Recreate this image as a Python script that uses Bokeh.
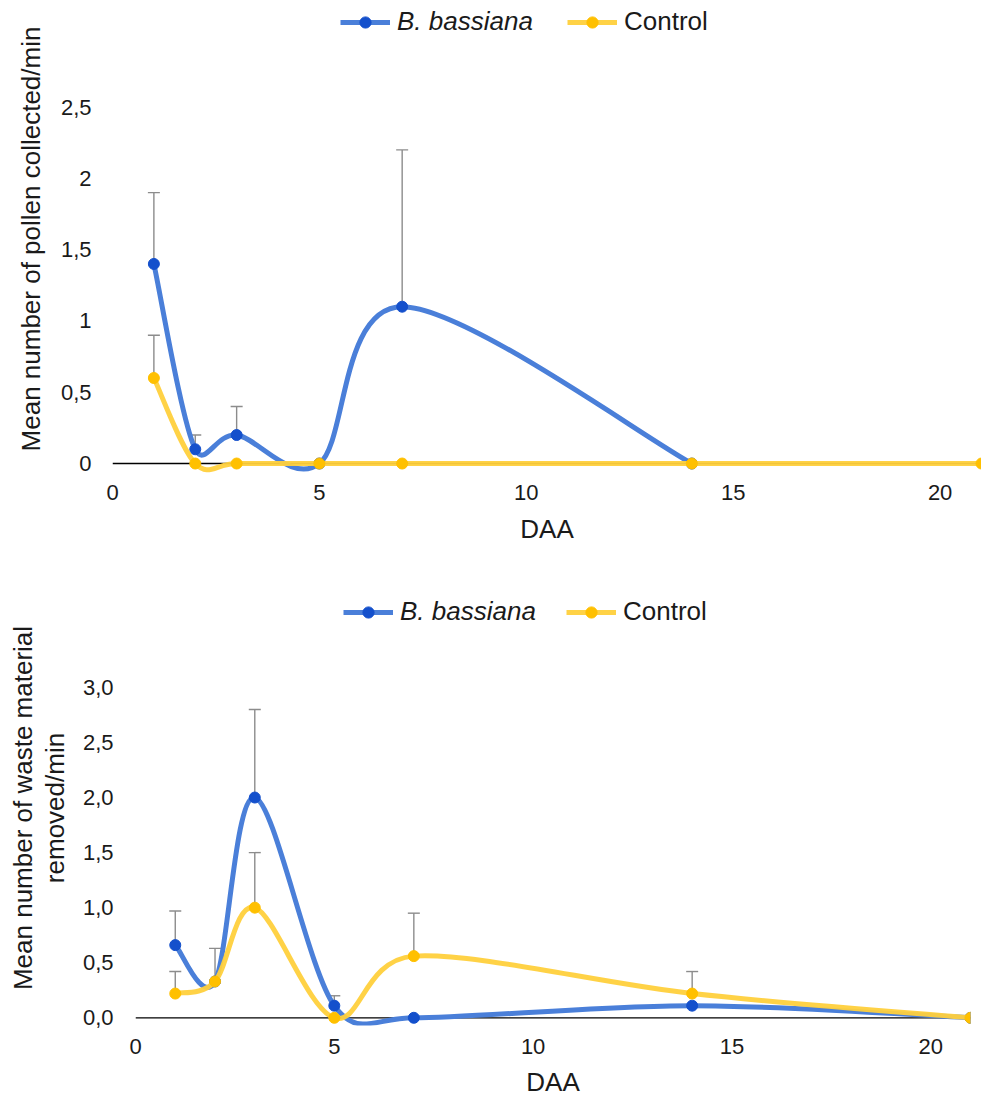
import math
from bokeh.plotting import figure
from bokeh.models import (Range1d, FixedTicker, Span, Whisker, TeeHead, Legend,
                          LegendItem, ColumnDataSource)
from bokeh.embed import file_html
from bokeh.resources import INLINE

# ---------------- data ----------------
days = [1, 2, 3, 5, 7, 14, 21]

pollen_bb_days = [1, 2, 3, 5, 7, 14]
pollen_bb = [1.4, 0.1, 0.2, 0.0, 1.1, 0.0]
pollen_bb_err = [0.5, 0.1, 0.2, 0.0, 1.1, 0.0]
pollen_ctrl = [0.6, 0.0, 0.0, 0.0, 0.0, 0.0, 0.0]
pollen_ctrl_err = [0.3, 0.0, 0.0, 0.0, 0.0, 0.0, 0.0]

waste_bb = [0.66, 0.33, 2.0, 0.11, 0.0, 0.11, 0.0]
waste_bb_err = [0.31, 0.30, 0.8, 0.09, 0.0, 0.0, 0.0]
waste_ctrl = [0.22, 0.33, 1.0, 0.0, 0.56, 0.22, 0.0]
waste_ctrl_err = [0.20, 0.0, 0.5, 0.0, 0.39, 0.20, 0.0]

series_names = ["B. bassiana", "Control"]

x_ticks = [0, 5, 10, 15, 20]
x_tick_labels = ["0", "5", "10", "15", "20"]
pollen_y_ticks = [0, 0.5, 1, 1.5, 2, 2.5]
pollen_y_labels = ["0", "0,5", "1", "1,5", "2", "2,5"]
waste_y_ticks = [0, 0.5, 1, 1.5, 2, 2.5, 3]
waste_y_labels = ["0,0", "0,5", "1,0", "1,5", "2,0", "2,5", "3,0"]

# ---------------- style ----------------
FONT = "Liberation Sans"
BLUE_LINE = "#4A7FD9"
BLUE_MARK = "#1450CC"
YEL_LINE = "#FFD03C"
YEL_MARK = "#FFC000"
ERR_COL = "#8C8C8C"
TXT = "#1a1a1a"
LW = 5


def bezier_source(xs, ys, sx, sy, f=1.0 / 6.0):
    """Smoothed-line Bezier segments (Excel-like), handles limited to half
    the segment length measured in screen pixels (sx, sy px per unit)."""
    n = len(xs)
    d = dict(x0=[], y0=[], x1=[], y1=[], cx0=[], cy0=[], cx1=[], cy1=[])

    def dist(i, j):
        return math.hypot((xs[j] - xs[i]) * sx, (ys[j] - ys[i]) * sy)

    for i in range(n - 1):
        a = i - 1 if i > 0 else i
        b = i + 2 if i + 2 < n else i + 1
        d12 = dist(i, i + 1)
        d02 = dist(a, i + 1)
        d13 = dist(i, b)
        f0 = f if d02 * f < d12 / 2 else (d12 / 2) / d02
        f1 = f if d13 * f < d12 / 2 else (d12 / 2) / d13
        d["x0"].append(xs[i]); d["y0"].append(ys[i])
        d["x1"].append(xs[i + 1]); d["y1"].append(ys[i + 1])
        d["cx0"].append(xs[i] + f0 * (xs[i + 1] - xs[a]))
        d["cy0"].append(ys[i] + f0 * (ys[i + 1] - ys[a]))
        d["cx1"].append(xs[i + 1] - f1 * (xs[b] - xs[i]))
        d["cy1"].append(ys[i + 1] - f1 * (ys[b] - ys[i]))
    return ColumnDataSource(d)


def err_source(xs, ys, errs):
    bx, lo, hi = [], [], []
    for x, y, e in zip(xs, ys, errs):
        if e > 0:
            bx.append(x); lo.append(y); hi.append(y + e)
    return ColumnDataSource(dict(base=bx, lower=lo, upper=hi))


def make_panel(bb_x, bb, bb_err, ct_x, ctrl, ctrl_err, yticks, ylabels, yrange,
               ylabel, frame_w, frame_h, borders, leg_pos, y_standoffs, x_standoffs,
               title_line_height=1.2):
    left, right, top, bottom = borders
    xr = (0, 21)
    p = figure(frame_width=frame_w, frame_height=frame_h,
               x_range=Range1d(*xr), y_range=Range1d(*yrange),
               output_backend="svg", toolbar_location=None,
               min_border_left=left, min_border_right=right,
               min_border_top=top, min_border_bottom=bottom)
    p.outline_line_color = None
    p.grid.visible = False
    p.background_fill_color = "white"
    p.border_fill_color = "white"
    sx = frame_w / (xr[1] - xr[0])
    sy = frame_h / (yrange[1] - yrange[0])

    p.add_layout(Span(location=0, dimension="width", line_color="black",
                      line_width=1.3, level="underlay"))

    # error bars
    for xs, ys, es in ((bb_x, bb, bb_err), (ct_x, ctrl, ctrl_err)):
        src = err_source(xs, ys, es)
        p.add_layout(Whisker(source=src, base="base", lower="lower", upper="upper",
                             line_color=ERR_COL, line_width=1.4,
                             upper_head=TeeHead(size=12, line_color=ERR_COL, line_width=1.4),
                             lower_head=None, level="underlay"))

    # series
    c_bb = p.bezier(x0="x0", y0="y0", x1="x1", y1="y1", cx0="cx0", cy0="cy0",
                    cx1="cx1", cy1="cy1", source=bezier_source(bb_x, bb, sx, sy),
                    line_color=BLUE_LINE, line_width=LW)
    s_bb = p.scatter(bb_x, bb, size=11, fill_color=BLUE_MARK, line_color=BLUE_MARK)
    c_ct = p.bezier(x0="x0", y0="y0", x1="x1", y1="y1", cx0="cx0", cy0="cy0",
                    cx1="cx1", cy1="cy1", source=bezier_source(ct_x, ctrl, sx, sy),
                    line_color=YEL_LINE, line_width=LW, line_alpha=0.95)
    s_ct = p.scatter(ct_x, ctrl, size=11, fill_color=YEL_MARK, line_color=YEL_MARK)

    (bx, cx, vy) = leg_pos
    for name, rends, lx, style in ((series_names[0], [c_bb, s_bb], bx, "italic"),
                                   (series_names[1], [c_ct, s_ct], cx, "normal")):
        leg = Legend(items=[LegendItem(label=name, renderers=rends, index=0)],
                     location=(lx, vy), orientation="horizontal",
                     glyph_width=50, glyph_height=28, label_standoff=7,
                     padding=0, margin=0, spacing=0,
                     border_line_color=None, background_fill_alpha=0,
                     label_text_font=FONT, label_text_font_size="26px",
                     label_text_font_style=style, label_text_color=TXT)
        p.add_layout(leg, "center")

    # axes
    p.xaxis.ticker = FixedTicker(ticks=x_ticks)
    p.xaxis.major_label_overrides = dict(zip(x_ticks, x_tick_labels))
    p.yaxis.ticker = FixedTicker(ticks=yticks)
    p.yaxis.major_label_overrides = dict(zip(yticks, ylabels))
    for ax in (p.xaxis[0], p.yaxis[0]):
        ax.axis_line_color = None
        ax.major_tick_line_color = None
        ax.minor_tick_line_color = None
        ax.major_tick_out = 0
        ax.major_tick_in = 0
        ax.minor_tick_out = 0
        ax.minor_tick_in = 0
        ax.major_label_text_font = FONT
        ax.major_label_text_font_size = "22px"
        ax.major_label_text_color = TXT
        ax.axis_label_text_font = FONT
        ax.axis_label_text_font_size = "26px"
        ax.axis_label_text_font_style = "normal"
        ax.axis_label_text_color = TXT
    p.xaxis.axis_label = "DAA"
    p.xaxis.major_label_standoff = x_standoffs[0]
    p.xaxis.axis_label_standoff = x_standoffs[1]
    p.yaxis.axis_label = ylabel
    p.yaxis.axis_label_text_line_height = title_line_height
    p.yaxis.major_label_standoff = y_standoffs[0]
    p.yaxis.axis_label_standoff = y_standoffs[1]
    return p


p1 = make_panel(pollen_bb_days, pollen_bb, pollen_bb_err, days, pollen_ctrl, pollen_ctrl_err,
                pollen_y_ticks, pollen_y_labels, (-0.07, 3.22),
                "Mean number of pollen collected/min",
                869, 469, (112, 0, 4, 97), (228, 455, 436), (21, 12), (11, 11))
p2 = make_panel(days, waste_bb, waste_bb_err, days, waste_ctrl, waste_ctrl_err,
                waste_y_ticks, waste_y_labels, (-0.07, 3.88),
                "Mean number of waste material\nremoved/min",
                835, 435, (135, 11, 20, 73), (208, 431, 398), (22, 10), (13, 10),
                title_line_height=1.07)

open("out.html", "w").write(file_html([p1, p2], INLINE))
